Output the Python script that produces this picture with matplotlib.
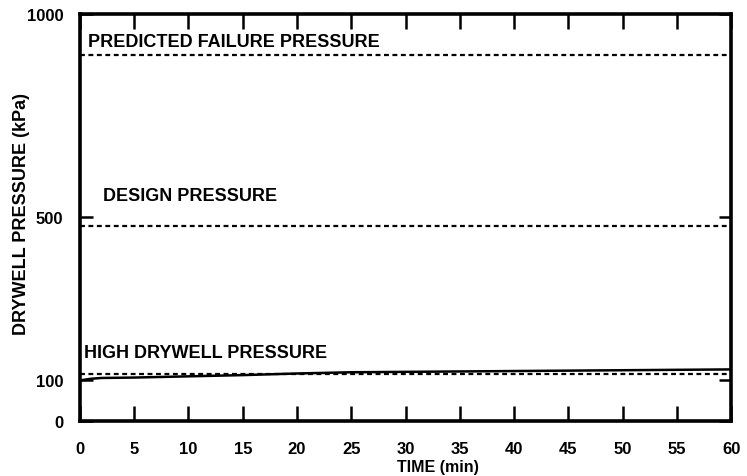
import matplotlib

matplotlib.use("Agg")
import matplotlib.pyplot as plt

# drywell pressure transient (kPa)
time_min = [0, 1, 2, 5, 10, 15, 20, 25, 30, 40, 50, 60]
drywell_kpa = [100, 104, 106, 107, 110, 113, 117, 120, 121, 123, 125, 127]

# reference pressure levels (kPa)
limit_names = ["PREDICTED FAILURE PRESSURE", "DESIGN PRESSURE", "HIGH DRYWELL PRESSURE"]
limit_values = [900, 480, 115]
label_x = [0.7, 2.1, 0.4]
label_y = [912, 533, 147]

x_ticks = list(range(0, 61, 5))
y_ticks = [0, 100, 500, 1000]

plt.rcParams["font.family"] = ["Liberation Sans", "DejaVu Sans"]
plt.rcParams["font.weight"] = "bold"

fig = plt.figure(figsize=(7.47, 4.77), dpi=100)
fig.patch.set_facecolor("white")
ax = fig.add_axes([0.107, 0.115, 0.872, 0.854])

ax.plot(time_min, drywell_kpa, color="black", linewidth=1.8)

for name, value, tx, ty in zip(limit_names, limit_values, label_x, label_y):
    ax.axhline(value, color="black", linewidth=1.6, linestyle=(0, (2.2, 1.6)))
    ax.text(tx, ty, name, fontsize=13, fontweight="bold", ha="left", va="bottom")

ax.set_xlim(0, 60)
ax.set_ylim(0, 1000)
ax.set_xticks(x_ticks)
ax.set_yticks(y_ticks)
ax.tick_params(axis="x", direction="in", length=11, width=1.8, pad=14,
               labelsize=12, top=True)
ax.tick_params(axis="y", direction="in", length=9, width=1.8, pad=12,
               labelsize=12, right=True)
for label in ax.get_xticklabels() + ax.get_yticklabels():
    label.set_fontweight("bold")

for spine in ax.spines.values():
    spine.set_linewidth(2.6)

ax.set_xlabel("TIME (min)", fontsize=11.5, fontweight="bold")
ax.xaxis.set_label_coords(33 / 60, -0.092)
ax.set_ylabel("DRYWELL PRESSURE (kPa)", fontsize=13, fontweight="bold")
ax.yaxis.set_label_coords(-0.077, 0.51)

fig.savefig("out.png", dpi=100, facecolor="white")
plt.close(fig)
